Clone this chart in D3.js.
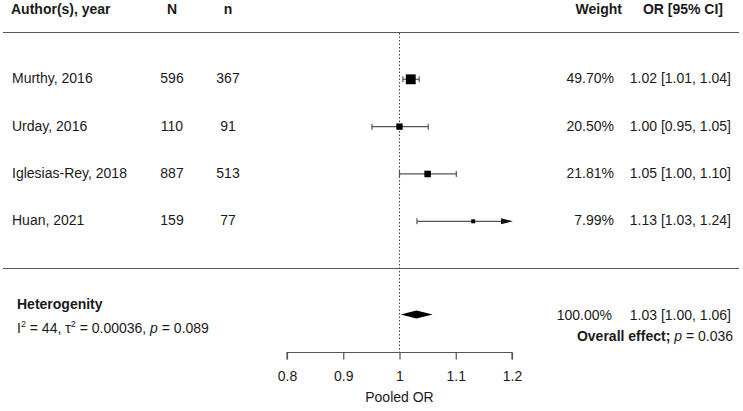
<!DOCTYPE html>
<html><head><meta charset="utf-8">
<script src="https://cdn.jsdelivr.net/npm/d3@7"></script>
<style>body{margin:0;background:#fff}text{font-family:"Liberation Sans",Arial,sans-serif;fill:#1a1a1a}</style>
</head><body><svg id="c" width="743" height="411"></svg>
<script>
const studies = ["Murthy, 2016","Urday, 2016","Iglesias-Rey, 2018","Huan, 2021"];
const bigN = [596,110,887,159];
const smallN = [367,91,513,77];
const weights = [49.70,20.50,21.81,7.99];
const orEst = [1.02,1.00,1.05,1.131];
const orLow = [1.006,0.951,1.00,1.031];
const orHigh = [1.035,1.051,1.101,1.24];
const orLabels = ["1.02 [1.01, 1.04]","1.00 [0.95, 1.05]","1.05 [1.00, 1.10]","1.13 [1.03, 1.24]"];
const pooled = {est:1.03, low:1.002, high:1.059, label:"1.03 [1.00, 1.06]", weight:"100.00%"};
const xTicks = [0.8,0.9,1.0,1.1,1.2];

const svg = d3.select("#c");
const x = d3.scaleLinear().domain([0.8,1.2]).range([287,512]);
const y = d3.scalePoint().domain(studies).range([79.3,221.3]);
const sz = d3.scaleSqrt().domain([0,100]).range([0,14]);
const lineCol = "#555";

// header
const hdr = svg.append("g").attr("font-weight","bold").attr("font-size",14);
hdr.append("text").attr("x",11).attr("y",14).text("Author(s), year");
hdr.append("text").attr("x",172).attr("y",14).attr("text-anchor","middle").text("N");
hdr.append("text").attr("x",228).attr("y",14).attr("text-anchor","middle").text("n");
hdr.append("text").attr("x",622).attr("y",14).attr("text-anchor","end").text("Weight");
hdr.append("text").attr("x",723).attr("y",14).attr("text-anchor","end").text("OR [95% CI]");

// separator lines
[32.5,268.5].forEach(yy=>svg.append("line").attr("x1",3).attr("x2",739).attr("y1",yy).attr("y2",yy).attr("stroke",lineCol).attr("stroke-width",1.2));

// reference line
svg.append("line").attr("x1",x(1)).attr("x2",x(1)).attr("y1",33).attr("y2",352)
  .attr("stroke","#444").attr("stroke-dasharray","1.5,2").attr("stroke-width",1);

// rows
const rows = svg.append("g").attr("font-size",14);
studies.forEach((s,i)=>{
  const yy = y(s);
  rows.append("text").attr("x",12).attr("y",yy+4).text(s);
  rows.append("text").attr("x",172).attr("y",yy+4).attr("text-anchor","middle").text(bigN[i]);
  rows.append("text").attr("x",228).attr("y",yy+4).attr("text-anchor","middle").text(smallN[i]);
  rows.append("text").attr("x",614).attr("y",yy+4).attr("text-anchor","end").text(weights[i].toFixed(2)+"%");
  rows.append("text").attr("x",731).attr("y",yy+4).attr("text-anchor","end").text(orLabels[i]);
  const lo = x(Math.max(orLow[i],0.8)), hiClip = orHigh[i]>1.2;
  const hi = hiClip ? x(1.2) : x(orHigh[i]);
  svg.append("line").attr("x1",lo).attr("x2",hiClip?hi-10:hi).attr("y1",yy).attr("y2",yy).attr("stroke",lineCol).attr("stroke-width",1.2);
  svg.append("line").attr("x1",lo).attr("x2",lo).attr("y1",yy-3).attr("y2",yy+3).attr("stroke",lineCol).attr("stroke-width",1.2);
  if(hiClip){
    svg.append("path").attr("d",`M${hi-11},${yy-3}L${hi+1},${yy}L${hi-11},${yy+3}Z`).attr("fill","#111");
  } else {
    svg.append("line").attr("x1",hi).attr("x2",hi).attr("y1",yy-3).attr("y2",yy+3).attr("stroke",lineCol).attr("stroke-width",1.2);
  }
  const w = sz(weights[i]);
  svg.append("rect").attr("x",x(orEst[i])-w/2).attr("y",yy-w/2).attr("width",w).attr("height",w).attr("fill","#000");
});

// pooled
const py = 314.5;
svg.append("path").attr("d",`M${x(pooled.low)},${py}L${x(pooled.est)},${py-4}L${x(pooled.high)},${py}L${x(pooled.est)},${py+4}Z`).attr("fill","#000");
svg.append("text").attr("x",612).attr("y",py+5).attr("font-size",14).attr("text-anchor","end").text(pooled.weight);
svg.append("text").attr("x",731).attr("y",py+5).attr("font-size",14).attr("text-anchor","end").text(pooled.label);

svg.append("text").attr("x",17).attr("y",309).attr("font-size",14).attr("font-weight","bold").text("Heterogenity");
const het = svg.append("text").attr("x",17).attr("y",333).attr("font-size",14);
het.append("tspan").text("I");
het.append("tspan").attr("font-size",9).attr("dy",-6).text("2");
het.append("tspan").attr("dy",6).text(" = 44, τ");
het.append("tspan").attr("font-size",9).attr("dy",-6).text("2");
het.append("tspan").attr("dy",6).text(" = 0.00036, ");
het.append("tspan").attr("font-style","italic").text("p");
het.append("tspan").text(" = 0.089");

const ov = svg.append("text").attr("x",733).attr("y",341).attr("font-size",14).attr("text-anchor","end");
ov.append("tspan").attr("font-weight","bold").text("Overall effect; ");
ov.append("tspan").attr("font-style","italic").text("p");
ov.append("tspan").text(" = 0.036");

// axis
const axis = d3.axisBottom(x).tickValues(xTicks).tickFormat(d3.format("~g")).tickSize(7).tickPadding(12);
const ag = svg.append("g").attr("transform","translate(0,352.5)").call(axis);
ag.select(".domain").attr("stroke",lineCol).attr("stroke-width",1.2).attr("d",`M${x(0.8)},7V0H${x(1.2)}V7`);
ag.selectAll(".tick line").attr("stroke",lineCol).attr("stroke-width",1.2);
ag.selectAll(".tick text").attr("font-size",14).attr("font-family","Liberation Sans, Arial, sans-serif").attr("fill","#1a1a1a");
svg.append("text").attr("x",x(1)).attr("y",402).attr("font-size",14).attr("text-anchor","middle").text("Pooled OR");
</script></body></html>
